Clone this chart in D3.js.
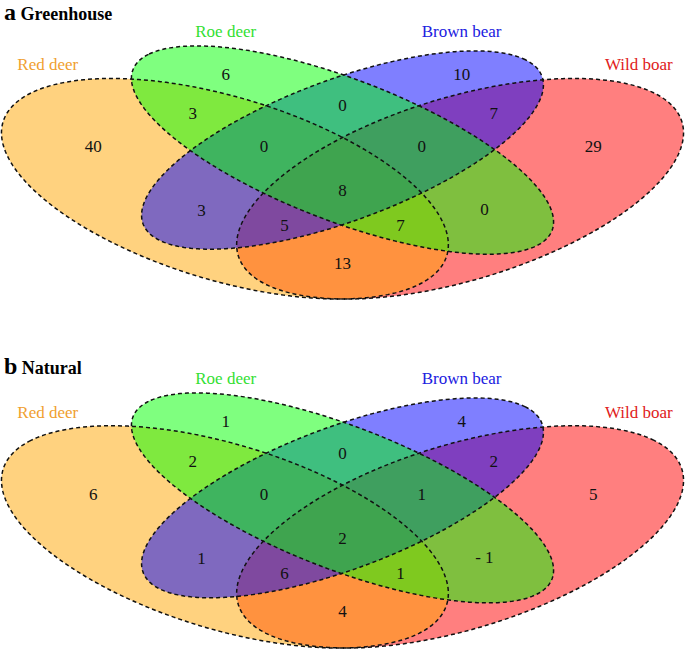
<!DOCTYPE html>
<html>
<head>
<meta charset="utf-8">
<script src="https://cdn.jsdelivr.net/npm/d3@7"></script>
<style>
  html, body { margin: 0; padding: 0; background: #fff; }
  svg { display: block; }
  text { font-family: "Liberation Serif", "DejaVu Serif", serif; }
</style>
</head>
<body>
<script>
// ---------- data ----------
const setNames = ["Red deer", "Roe deer", "Brown bear", "Wild boar"];
const setColors = ["#FFA500", "#00FF00", "#0000FF", "#FF0000"];
const labelColors = ["#F0A030", "#33E033", "#2020E0", "#E02020"];

// region order:
// Roe only, Brown only, Red∩Roe, Roe∩Brown, Brown∩Wild, Red only,
// Red∩Roe∩Brown, Roe∩Brown∩Wild, Wild only, all four, Red∩Brown,
// Roe∩Wild, Red∩Brown∩Wild, Red∩Roe∩Wild, Red∩Wild
const regionNames = ["Roe", "Brown", "Red&Roe", "Roe&Brown", "Brown&Wild", "Red",
  "Red&Roe&Brown", "Roe&Brown&Wild", "Wild", "All", "Red&Brown",
  "Roe&Wild", "Red&Brown&Wild", "Red&Roe&Wild", "Red&Wild"];
const greenhouseValues = [6, 10, 3, 0, 7, 40, 0, 0, 29, 8, 3, 0, 5, 7, 13];
const naturalValues    = [1, 4, 2, 0, 2, 6, 0, 1, 5, 2, 1, -1, 6, 1, 4];
const panelTitles = ["Greenhouse", "Natural"];
const panelLetters = ["a", "b"];

// ---------- layout (unit Venn coordinates) ----------
const ellipses = [
  {cx: 0.35, cy: 0.47, a: 0.35, b: 0.20, rot: 135},
  {cx: 0.50, cy: 0.57, a: 0.35, b: 0.15, rot: 135},
  {cx: 0.50, cy: 0.57, a: 0.33, b: 0.15, rot: 45},
  {cx: 0.65, cy: 0.47, a: 0.35, b: 0.20, rot: 45}
];
const drawOrder = [3, 0, 2, 1];
const regionPos = [
  [0.351, 0.765], [0.652, 0.765], [0.309, 0.664], [0.50, 0.685], [0.693, 0.664],
  [0.182, 0.578], [0.400, 0.578], [0.601, 0.578], [0.820, 0.578], [0.50, 0.466],
  [0.320, 0.414], [0.681, 0.416], [0.426, 0.376], [0.574, 0.376], [0.50, 0.278]
];
const catPos = [[0.124, 0.776], [0.351, 0.862], [0.652, 0.862], [0.878, 0.776]];

const W = 685, H = 654;
const FONT = "'Liberation Serif', 'DejaVu Serif', serif";
const panels = [
  {values: greenhouseValues, top: 46, bottom: 299, titleY: 20},
  {values: naturalValues, top: 393, bottom: 648, titleY: 374}
];

const svg = d3.select("body").append("svg").attr("width", W).attr("height", H);

function ellipsePoints(e) {
  const th = e.rot * Math.PI / 180, pts = [];
  for (let i = 0; i < 240; i++) {
    const t = i / 240 * 2 * Math.PI;
    pts.push([
      e.cx + e.a * Math.cos(th) * Math.cos(t) - e.b * Math.sin(th) * Math.sin(t),
      e.cy + e.a * Math.sin(th) * Math.cos(t) + e.b * Math.cos(th) * Math.sin(t)
    ]);
  }
  return pts;
}

panels.forEach((p, pi) => {
  const x = d3.scaleLinear().domain([0.065, 0.935]).range([1.5, 683.5]);
  const y = d3.scaleLinear().domain([0.185, 0.839]).range([p.bottom, p.top]);
  const line = d3.line().x(d => x(d[0])).y(d => y(d[1])).curve(d3.curveLinearClosed);
  const g = svg.append("g");

  // title
  const t = g.append("text").attr("x", 4).attr("y", p.titleY).attr("fill", "#000")
    .attr("font-family", FONT);
  t.append("tspan").text(panelLetters[pi]).attr("font-size", 24).attr("font-weight", "bold");
  t.append("tspan").text(" " + panelTitles[pi]).attr("font-size", 18).attr("font-weight", "bold");

  // fills
  g.selectAll("path.fill").data(drawOrder).join("path")
    .attr("class", "fill")
    .attr("d", i => line(ellipsePoints(ellipses[i])))
    .attr("fill", i => setColors[i]).attr("fill-opacity", 0.5).attr("stroke", "none");
  // outlines
  g.selectAll("path.outline").data(drawOrder).join("path")
    .attr("class", "outline")
    .attr("d", i => line(ellipsePoints(ellipses[i])))
    .attr("fill", "none").attr("stroke", "#111").attr("stroke-width", 1.5)
    .attr("stroke-dasharray", "4,3");

  // region counts
  g.selectAll("text.count").data(p.values).join("text")
    .attr("class", "count")
    .attr("x", (d, i) => x(regionPos[i][0]))
    .attr("y", (d, i) => y(regionPos[i][1]))
    .attr("text-anchor", "middle").attr("dominant-baseline", "central")
    .attr("font-family", FONT)
    .attr("font-size", 17).attr("fill", "#111")
    .text(d => d < 0 ? "- " + Math.abs(d) : d);

  // category labels
  g.selectAll("text.cat").data(setNames).join("text")
    .attr("class", "cat")
    .attr("x", (d, i) => x(catPos[i][0]))
    .attr("y", (d, i) => y(catPos[i][1]))
    .attr("text-anchor", "middle")
    .attr("font-family", FONT)
    .attr("font-size", 17).attr("fill", (d, i) => labelColors[i])
    .text(d => d);
});
</script>
</body>
</html>
